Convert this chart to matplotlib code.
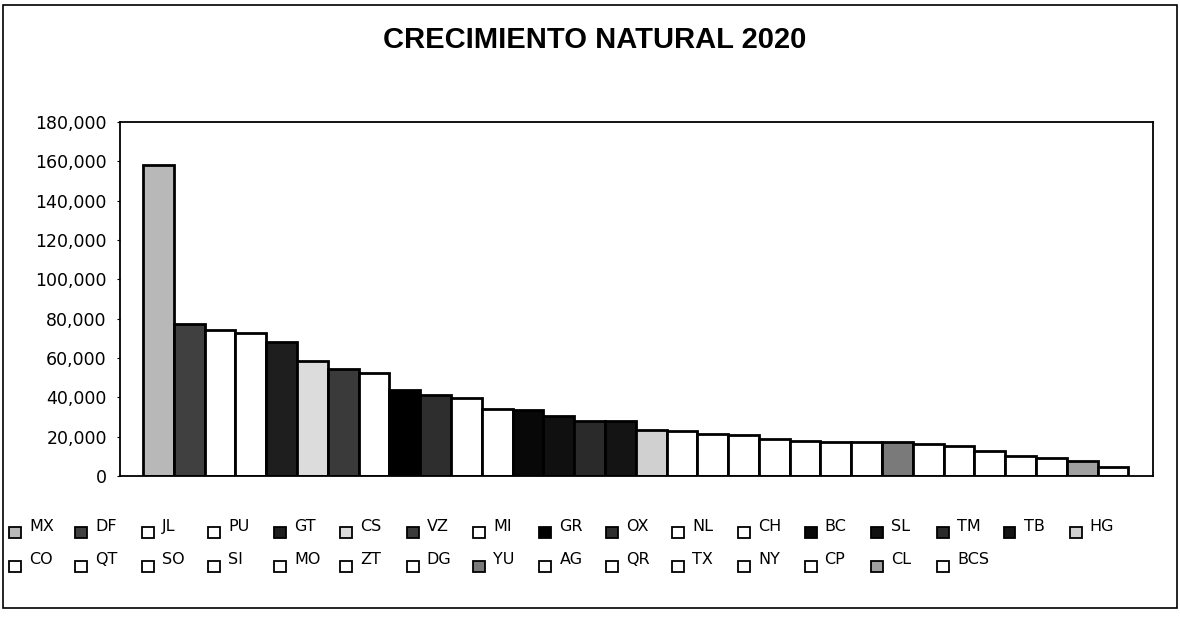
import matplotlib
matplotlib.use("Agg")
import matplotlib.pyplot as plt
from matplotlib.patches import Rectangle
from matplotlib.ticker import FuncFormatter

plt.rcParams['font.family'] = ['Liberation Sans', 'DejaVu Sans']

# datos (crecimiento natural por entidad, 2020)
estados = ["MX", "DF", "JL", "PU", "GT", "CS", "VZ", "MI", "GR", "OX", "NL",
           "CH", "BC", "SL", "TM", "TB", "HG", "CO", "QT", "SO", "SI", "MO",
           "ZT", "DG", "YU", "AG", "QR", "TX", "NY", "CP", "CL", "BCS"]
valores = [158000, 77400, 74000, 72600, 68000, 58700, 54300, 52600, 43800,
           41400, 39900, 34300, 33800, 30700, 27800, 27800, 23400, 23100,
           21400, 20900, 18900, 17700, 17500, 17100, 17100, 16300, 15500,
           12900, 10000, 9200, 7500, 4800]
rellenos = ["#b8b8b8", "#404040", "white", "white", "#1e1e1e", "#dcdcdc",
            "#3a3a3a", "white", "#000000", "#2e2e2e", "white", "white",
            "#080808", "#101010", "#2a2a2a", "#141414", "#d0d0d0", "white",
            "white", "white", "white", "white", "white", "white", "#7a7a7a",
            "white", "white", "white", "white", "white", "#a0a0a0", "white"]

W, H = 1180, 618
fig = plt.figure(figsize=(W / 100, H / 100), dpi=100)

# marco exterior
fig.add_artist(Rectangle((3 / W, 1 - 608 / H), 1174 / W, 603 / H,
                         transform=fig.transFigure, fill=False,
                         edgecolor="black", linewidth=1.2))

ax = fig.add_axes([120 / W, 1 - 476 / H, (1153 - 120) / W, (476 - 122) / H])
x = list(range(len(estados)))
ax.bar(x, valores, width=1.0, color=rellenos, edgecolor="black", linewidth=2.0)

ax.set_xlim(-1.25, 32.3)
ax.set_ylim(0, 180000)
ax.set_yticks(range(0, 180001, 20000))
ax.yaxis.set_major_formatter(FuncFormatter(lambda v, p: f"{int(v):,}"))
ax.tick_params(axis="y", direction="out", length=2.5, width=0.8, pad=7)
for lab in ax.get_yticklabels():
    lab.set_family("DejaVu Sans")
    lab.set_fontsize(12.5)
ax.set_xticks([])
for s in ax.spines.values():
    s.set_linewidth(1.3)

fig.text(595 / W, 1 - 40 / H, "CRECIMIENTO NATURAL 2020", ha="center",
         va="center", fontsize=21, fontweight="bold")

# leyenda manual en dos filas (17 columnas)
ncol = 17
for i, (nom, col) in enumerate(zip(estados, rellenos)):
    fila, c = divmod(i, ncol)
    x0 = 9 + 66.3 * c
    y_mark = 527 + 33.5 * fila
    fig.add_artist(Rectangle((x0 / W, 1 - (y_mark + 11) / H), 12 / W, 11 / H,
                             transform=fig.transFigure, facecolor=col,
                             edgecolor="black", linewidth=1.3))
    fig.text((x0 + 20) / W, 1 - (y_mark + 4) / H, nom, ha="left",
             va="baseline", fontsize=11.5, family="DejaVu Sans")

fig.savefig("out.png", dpi=100)
